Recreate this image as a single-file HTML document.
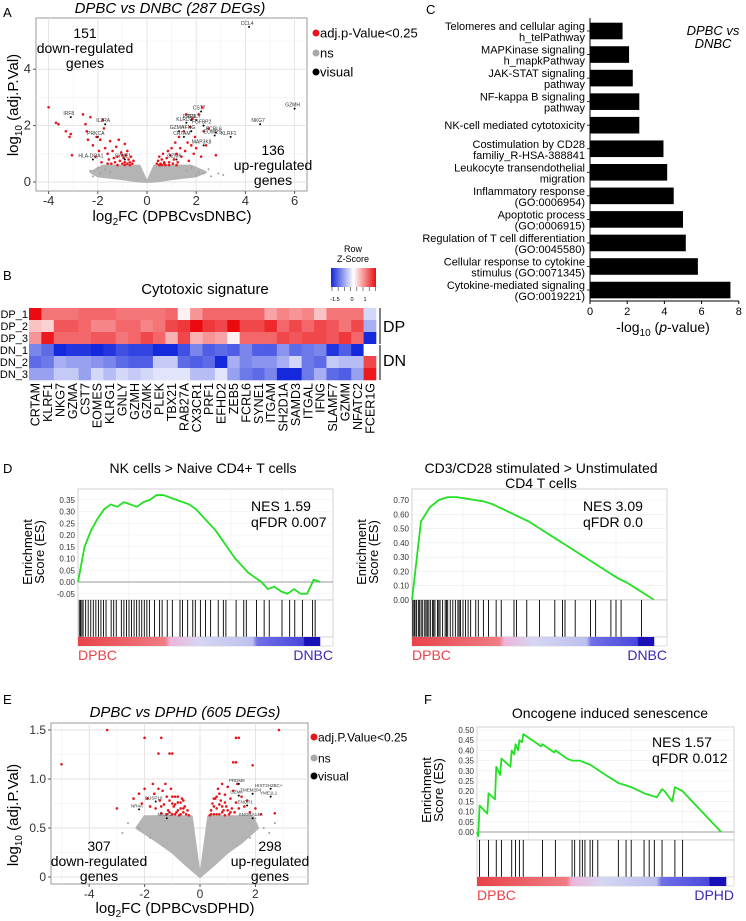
<!DOCTYPE html>
<html><head><meta charset="utf-8">
<style>
html,body{margin:0;padding:0;background:#fff;}
svg{display:block;font-family:"Liberation Sans",Arial,sans-serif;}
</style></head>
<body>
<svg id="fig" width="746" height="921" viewBox="0 0 746 921" xmlns="http://www.w3.org/2000/svg">
<defs>
<linearGradient id="hmkey" x1="0" x2="1" y1="0" y2="0">
<stop offset="0" stop-color="#1428d8"/><stop offset="0.5" stop-color="#ffffff"/><stop offset="1" stop-color="#e81010"/>
</linearGradient>
<linearGradient id="rankbar" x1="0" x2="1" y1="0" y2="0">
<stop offset="0" stop-color="#e8434a"/><stop offset="0.36" stop-color="#f07c84"/><stop offset="0.38" stop-color="#eeb4da"/><stop offset="0.5" stop-color="#d6d6f2"/><stop offset="0.72" stop-color="#bcc0ee"/><stop offset="0.74" stop-color="#7070e6"/><stop offset="0.93" stop-color="#4a48dc"/><stop offset="0.935" stop-color="#1a10b8"/><stop offset="1" stop-color="#1a10b8"/>
</linearGradient>
</defs>
<g id="root"></g>
</svg>
<script>
// ---------------- DATA ----------------
// Panel A volcano
const aRedPts = [[-4.0,2.65],[-3.7,2.1],[-3.6,2.05],[-3.3,1.8],[-3.15,1.6],[-3.1,1.7],[-3.05,0.95],[-2.6,2.4],[-2.5,2.05],[-2.45,1.8],[-2.4,1.5],[-2.3,2.3],[-2.2,1.3],[-2.1,0.9],[-2.05,1.6],[-1.95,1.1],[-1.9,1.5],[-1.85,0.7],[-1.8,2.2],[-1.75,1.9],[-1.7,1.2],[-1.6,1.0],[-1.55,0.8],[-1.5,1.45],[-1.45,0.65],[-1.4,1.1],[-1.35,0.85],[-1.3,0.7],[-1.25,1.25],[-1.2,0.9],[-1.15,1.5],[-1.1,0.75],[-1.05,1.05],[-1.0,0.65],[-0.95,0.85],[-0.9,1.35],[-0.9,0.7],[-0.85,0.95],[-0.8,1.1],[-0.8,0.65],[-0.75,0.8],[-0.7,0.7],[-0.65,0.9],[-0.6,0.65],[-0.55,0.75],[-1.0,0.95],[-0.9,0.6],[-1.2,0.6],[-0.7,0.6],[-1.6,0.65],
[0.4,0.65],[0.45,0.75],[0.5,0.9],[0.55,0.65],[0.6,0.8],[0.65,1.0],[0.7,0.7],[0.75,0.6],[0.8,0.85],[0.85,1.1],[0.9,0.7],[0.95,0.95],[1.0,1.2],[1.05,0.65],[1.1,0.8],[1.15,1.4],[1.2,1.0],[1.25,0.7],[1.3,1.6],[1.35,1.2],[1.4,0.9],[1.5,1.8],[1.55,1.1],[1.6,2.4],[1.65,1.4],[1.7,0.75],[1.75,1.95],[1.8,1.3],[1.85,2.25],[1.9,1.0],[1.95,1.6],[2.0,1.2],[2.1,2.4],[2.2,0.9],[2.25,2.65],[2.3,1.8],[2.4,1.3],[2.5,1.9],[2.8,0.95],[0.6,0.6],[0.7,0.65],[0.9,0.6],[0.5,0.6],[1.2,0.6]];
const aGrayPts = [[-2.3,0.4],[-2.0,0.5],[-1.9,0.3],[-2.2,0.2],[2.1,0.35],[2.3,0.3],[2.5,0.45],[2.9,0.3],[2.6,0.2],[3.1,0.25],[-1.7,0.45],[1.8,0.5],[1.6,0.4],[-1.5,0.35],[2.0,0.25]];
const aLeftArmX = [0,-0.3,-1.8,-2.3,-2.0,-1.0,-0.4,0];
const aLeftArmY = [0,0.58,0.58,0.35,0.2,0.1,0.02,0];
const aRightArmX = [0,0.3,1.8,2.4,2.0,1.0,0.4,0];
const aRightArmY = [0,0.58,0.58,0.35,0.2,0.1,0.02,0];
const aLabelNames = ["CCL4","GZMH","NKG7","IRF8","IL2RA","PRKCA","HLA-DQA1","KLRF1","FCRL6","EOMES","CST7","GNLY","PRF1","KLRD1","GZMA","IFNG","CRTAM","FGFBP2","MAP3K8","SYNE1","GZMK"];
const aLabelX = [4.15,6.0,4.6,-3.1,-1.7,-2.0,-2.2,3.4,2.8,2.75,2.2,2.0,1.8,1.6,1.3,1.8,1.5,2.3,2.3,-0.9,1.2];
const aLabelY = [5.5,2.6,2.05,2.3,2.05,1.6,0.8,1.6,1.75,1.65,2.5,2.2,2.2,2.1,1.8,1.8,1.6,2.0,1.3,0.8,0.8];
const aXTicks = [-4,-2,0,2,4,6];
const aYTicks = [0,2,4];

// Panel B heatmap
const bGenes = ["CRTAM","KLRF1","NKG7","GZMA","CST7","EOMES","KLRG1","GNLY","GZMH","GZMK","PLEK","TBX21","RAB27A","CX3CR1","PRF1","EFHD2","ZEB5","FCRL6","SYNE1","ITGAM","SH2D1A","SAMD3","ITGAL","IFNG","SLAMF7","GZMM","NFATC2","FCER1G"];
const bRows = ["DP_1","DP_2","DP_3","DN_1","DN_2","DN_3"];
const bZ = [
[1.6,0.9,0.9,0.9,1.0,1.0,1.0,0.9,0.9,0.9,0.9,1.0,0.1,0.7,1.0,1.0,1.0,1.0,1.0,0.6,0.8,0.7,0.8,0.4,0.9,0.9,0.9,-0.3],
[0.4,0.3,1.1,1.1,1.0,0.8,0.8,1.0,1.0,0.8,0.9,1.2,1.3,1.6,1.3,1.2,1.6,1.2,1.2,1.4,1.0,1.2,1.0,1.2,1.1,0.9,1.2,-0.6],
[0.7,1.5,1.0,1.0,1.0,1.1,1.1,0.9,1.0,1.2,1.0,0.5,1.2,0.5,0.7,0.6,0.1,1.0,1.0,1.0,1.2,1.1,1.2,1.2,1.1,1.3,1.0,-1.6],
[-0.9,-1.1,-1.7,-1.5,-1.5,-1.6,-1.5,-1.3,-1.4,-1.4,-1.9,-1.9,-1.3,-0.9,-1.2,-1.1,-1.2,-0.9,-1.2,-1.2,-0.8,-1.1,-1.0,-0.9,-1.5,-1.2,-1.8,0.0],
[-1.1,-1.0,-0.6,-0.7,-0.7,-0.8,-0.9,-1.1,-1.2,-1.2,-0.4,-0.4,-1.1,-1.2,-1.1,-1.8,-0.6,-0.9,-0.8,-0.8,-0.6,-0.3,-1.0,-1.1,-0.4,-0.5,-0.5,1.2],
[-0.7,-0.7,-0.4,-0.4,-0.7,-0.3,-0.5,-0.3,-0.4,-0.3,-0.2,-0.2,-0.2,-0.5,-0.5,-0.2,-0.7,-1.0,-1.1,-0.9,-1.7,-1.6,-1.0,-0.6,-1.1,-1.2,-0.7,1.5]];

// Panel C bars
const cLine1 = ["Telomeres and cellular aging","MAPKinase signaling","JAK-STAT signaling","NF-kappa B signaling","NK-cell mediated cytotoxicity","Costimulation by CD28","Leukocyte transendothelial","Inflammatory response","Apoptotic process","Regulation of T cell differentiation","Cellular response to cytokine","Cytokine-mediated signaling"];
const cLine2 = ["h_telPathway","h_mapkPathway","pathway","pathway","","familiy_R-HSA-388841","migration","(GO:0006954)","(GO:0006915)","(GO:0045580)","stimulus (GO:0071345)","(GO:0019221)"];
const cValues = [1.75,2.1,2.3,2.65,2.65,3.95,4.15,4.5,5.0,5.15,5.8,7.55];
const cXTicks = [0,2,4,6,8];

// Panel D GSEA
const d1ES = [0,0.15,0.22,0.27,0.31,0.33,0.32,0.34,0.33,0.32,0.34,0.35,0.37,0.37,0.36,0.35,0.34,0.33,0.31,0.28,0.25,0.22,0.18,0.14,0.10,0.07,0.04,0.02,0.00,-0.03,-0.02,-0.04,-0.05,-0.03,-0.05,-0.05,0.01,0.0];
const d1Hits = [0.005,0.01,0.015,0.02,0.03,0.04,0.05,0.06,0.07,0.08,0.09,0.1,0.11,0.13,0.14,0.15,0.17,0.18,0.19,0.2,0.21,0.22,0.23,0.24,0.25,0.26,0.27,0.28,0.3,0.32,0.33,0.35,0.37,0.4,0.41,0.43,0.45,0.46,0.48,0.5,0.52,0.55,0.57,0.58,0.62,0.65,0.66,0.7,0.73,0.75,0.8,0.83,0.85,0.88,0.92,0.93];
const d1Ticks = [-0.05,0,0.05,0.1,0.15,0.2,0.25,0.3,0.35];
const d2ES = [0,0.55,0.65,0.70,0.72,0.72,0.71,0.70,0.69,0.67,0.64,0.61,0.58,0.55,0.51,0.47,0.43,0.39,0.35,0.31,0.27,0.23,0.19,0.15,0.12,0.08,0.04,0.0];
const d2Hits = [0.003,0.008,0.012,0.018,0.025,0.03,0.036,0.042,0.05,0.055,0.06,0.066,0.072,0.08,0.085,0.09,0.1,0.105,0.11,0.12,0.13,0.135,0.14,0.15,0.16,0.17,0.18,0.185,0.19,0.2,0.21,0.22,0.23,0.25,0.26,0.28,0.3,0.33,0.35,0.4,0.41,0.45,0.5,0.56,0.59,0.6,0.64,0.7,0.72,0.78,0.8,0.82,0.9];
const d2Ticks = [0,0.1,0.2,0.3,0.4,0.5,0.6,0.7];

// Panel E volcano
const eRedPts = [[-5,1.15],[-3.35,1.5],[-3.0,0.7],[-2.0,1.42],[-1.4,1.42],[-1.5,1.26],[-1.1,1.26],[-1.0,1.26],[1.3,1.42],[1.4,1.42],[1.2,1.17],[1.3,1.17],[1.9,1.14],[2.85,1.5],[2.7,0.65],
[-2.4,0.8],[-2.2,0.85],[-2.1,0.75],[-2.0,0.9],[-1.9,0.8],[-1.8,0.72],[-1.7,0.95],[-1.65,0.85],[-1.6,0.7],[-1.5,0.9],[-1.45,0.78],[-1.4,0.65],[-1.35,0.88],[-1.3,0.74],[-1.25,0.95],[-1.2,0.82],[-1.15,0.68],[-1.1,0.78],[-1.05,0.9],[-1.0,0.64],[-0.95,0.72],[-0.9,0.82],[-0.85,0.66],[-0.8,0.76],[-0.75,0.63],[-0.7,0.7],[-0.65,0.8],[-0.6,0.66],[-0.55,0.72],[-0.5,0.64],[-0.45,0.68],[-0.4,0.63],[-1.2,0.64],[-1.0,0.75],[-0.8,0.68],[-0.6,0.78],[-0.9,0.64],[-0.7,0.64],[-1.4,0.72],[-1.1,0.66],[-0.8,0.82],[-0.7,0.76],[-0.9,0.74],[-1.0,0.82],[-0.6,0.7],
[0.35,0.63],[0.4,0.68],[0.45,0.75],[0.5,0.64],[0.55,0.8],[0.6,0.7],[0.65,0.9],[0.7,0.64],[0.75,0.78],[0.8,0.95],[0.85,0.68],[0.9,0.84],[0.95,0.72],[1.0,0.92],[1.05,0.64],[1.1,0.8],[1.15,0.7],[1.2,0.88],[1.25,0.66],[1.3,0.76],[1.35,0.95],[1.4,0.7],[1.5,0.82],[1.6,0.72],[1.7,0.78],[1.8,0.66],[2.0,0.7],[2.2,0.64],[0.6,0.64],[0.8,0.66],[1.0,0.68],[0.7,0.85],[0.9,0.63],[1.1,0.66],[0.5,0.72],[0.4,0.64],[0.6,0.82],[0.7,0.74],[0.8,0.72],[0.5,0.8],[0.9,0.76]];
const eGrayPts = [[-2.6,0.55],[-2.8,0.45],[-2.2,0.5],[2.0,0.6],[2.3,0.5],[2.5,0.45],[1.8,0.4],[-1.8,0.4],[2.7,0.55]];
const eLeftArmX = [0,-0.3,-2.0,-2.3,-1.5,-1.0,-0.5,0];
const eLeftArmY = [0,0.62,0.62,0.5,0.35,0.25,0.12,0];
const eRightArmX = [0,0.3,1.9,2.1,1.5,1.0,0.5,0];
const eRightArmY = [0,0.62,0.62,0.5,0.35,0.25,0.12,0];
const eLabelNames = ["PRDM8","HIST2H2BC+","TMEM204","YME1L1","GZMK","ENOP1","SNORA14A","DUSP10","NR4A","NR4A2"];
const eLabelX = [1.4,2.55,1.9,2.55,1.4,1.7,1.9,-1.6,-2.2,-1.2];
const eLabelY = [0.95,0.9,0.85,0.82,0.83,0.73,0.6,0.77,0.69,0.6];
const eXTicks = [-4,-2,0,2];
const eYTicks = [0,0.5,1.0,1.5];

// Panel F GSEA
const fRank = [0,0.005,0.01,0.04,0.045,0.07,0.075,0.09,0.095,0.13,0.135,0.145,0.15,0.16,0.165,0.175,0.18,0.25,0.255,0.30,0.305,0.35,0.37,0.40,0.44,0.5,0.55,0.6,0.65,0.7,0.72,0.73,0.76,0.77,0.8,0.95];
const fES = [0,-0.02,0.13,0.09,0.19,0.16,0.32,0.28,0.36,0.32,0.40,0.38,0.43,0.40,0.45,0.44,0.48,0.42,0.43,0.39,0.40,0.36,0.35,0.35,0.33,0.28,0.24,0.22,0.19,0.17,0.21,0.20,0.15,0.22,0.20,0.0];
const fHits = [0.01,0.045,0.075,0.095,0.135,0.15,0.165,0.18,0.255,0.305,0.37,0.38,0.40,0.41,0.42,0.44,0.45,0.47,0.55,0.58,0.6,0.65,0.67,0.69,0.72,0.77,0.8];
const fTicks = [0,0.05,0.1,0.15,0.2,0.25,0.3,0.35,0.4,0.45,0.5];

// ---------------- DRAW ----------------
const NS="http://www.w3.org/2000/svg";
const root=document.getElementById('root');
function mk(tag,attrs,parent){const e=document.createElementNS(NS,tag);for(const k in attrs)e.setAttribute(k,attrs[k]);(parent||root).appendChild(e);return e;}
function txt(s,x,y,size,anchor,parent,extra){const e=mk('text',Object.assign({x:x,y:y,'font-size':size,'text-anchor':anchor||'start',fill:'#000'},extra||{}),parent);e.textContent=s;return e;}
let el;

[["A",3,17],["B",3,280],["C",426,14],["D",3,473],["E",3,704],["F",424,704]].forEach(p=>{
  el=txt(p[0],p[1],p[2],13,'start');
  
  
});

function volcano(cfg){
  const g=mk('g',{});
  
  
  const sx=cfg.sx, sy=cfg.sy;
  el=mk('rect',{x:cfg.L,y:cfg.T,width:cfg.R-cfg.L,height:cfg.B-cfg.T,fill:'#fff',stroke:'#9a9a9a','stroke-width':1},g);
  
  
  cfg.xMinor.forEach(v=>{el=mk('line',{x1:sx(v),x2:sx(v),y1:cfg.T,y2:cfg.B,stroke:'#f0f0f0','stroke-width':0.6},g);});
  cfg.yMinor.forEach(v=>{el=mk('line',{x1:cfg.L,x2:cfg.R,y1:sy(v),y2:sy(v),stroke:'#f0f0f0','stroke-width':0.6},g);});
  cfg.xTicks.forEach(v=>{
    el=mk('line',{x1:sx(v),x2:sx(v),y1:cfg.T,y2:cfg.B,stroke:'#e2e2e2','stroke-width':0.9},g);
    el=mk('line',{x1:sx(v),x2:sx(v),y1:cfg.B,y2:cfg.B+3,stroke:'#555'},g);
    el=txt(String(v),sx(v),cfg.B+14,cfg.tickSize,'middle',g,{fill:'#333'});
  });
  cfg.yTicks.forEach(v=>{
    el=mk('line',{x1:cfg.L,x2:cfg.R,y1:sy(v),y2:sy(v),stroke:'#e2e2e2','stroke-width':0.9},g);
    el=mk('line',{x1:cfg.L-3,x2:cfg.L,y1:sy(v),y2:sy(v),stroke:'#555'},g);
    el=txt(cfg.yFmt(v),cfg.L-5,sy(v)+4,cfg.tickSize,'end',g,{fill:'#333'});
  });
  [[cfg.lax,cfg.lay],[cfg.rax,cfg.ray]].forEach(a=>{
    const pts=a[0].map((x,i)=>sx(x)+','+sy(a[1][i])).join(' ');
    el=mk('polygon',{points:pts,fill:'#b4b4b4',stroke:'#b4b4b4','stroke-width':2,'stroke-linejoin':'round'},g);
    
    
  });
  cfg.gray.forEach(p=>{el=mk('circle',{cx:sx(p[0]),cy:sy(p[1]),r:1,fill:'#a0a0a0'},g);});
  cfg.red.forEach(p=>{el=mk('circle',{cx:sx(p[0]),cy:sy(p[1]),r:1.3,fill:'#e8141c'},g);});
  cfg.labN.forEach((n,i)=>{
    el=mk('circle',{cx:sx(cfg.labX[i]),cy:sy(cfg.labY[i]),r:1,fill:'#000'},g);
    el=txt(n,sx(cfg.labX[i])-2,sy(cfg.labY[i])-2,cfg.labSize,'middle',g,{fill:'#333'});
  });
  const leg=[["#e8141c",cfg.legRed],["#a8a8a8","ns"],["#000","visual"]];
  leg.forEach((l,i)=>{
    el=mk('circle',{cx:cfg.legX,cy:cfg.legY[i],r:3.5,fill:l[0]},g);
    el=txt(l[1],cfg.legX+4,cfg.legY[i]+4.5,cfg.legSize,'start',g);
  });
  el=txt(cfg.title,cfg.titleX,cfg.titleY,15,'middle',g,{'font-style':'italic'});
  el=mk('text',{x:cfg.xtX,y:cfg.xtY,'font-size':15,'text-anchor':'middle'},g);
  el.innerHTML='log<tspan font-size="10" dy="4">2</tspan><tspan dy="-4">FC ('+cfg.xtName+')</tspan>';
  
  el=mk('text',{x:0,y:0,'font-size':15,'text-anchor':'middle',transform:'translate('+cfg.ytX+','+cfg.ytY+') rotate(-90)'},g);
  el.innerHTML='log<tspan font-size="10" dy="4">10</tspan><tspan dy="-4"> (adj.P.Val)</tspan>';
  
  cfg.notes.forEach(nt=>{nt[0].forEach((s,i)=>{el=txt(s,nt[1],nt[2]+i*15,14,'middle',g);});});
}

volcano({name:'volcano-dpbc-vs-dnbc',L:36,R:307,T:18,B:191,
  sx:x=>147+x*24.6, sy:y=>182-y*28.2,
  xTicks:aXTicks,yTicks:aYTicks,xMinor:[-3,-1,1,3,5],yMinor:[1,3,5],yFmt:v=>String(v),tickSize:13,
  lax:aLeftArmX,lay:aLeftArmY,rax:aRightArmX,ray:aRightArmY,gray:aGrayPts,red:aRedPts,
  labN:aLabelNames,labX:aLabelX,labY:aLabelY,labSize:5,
  legX:316,legY:[33,53,72],legRed:'adj.p-Value<0.25',legSize:13,
  title:'DPBC vs DNBC  (287 DEGs)',titleX:170,titleY:13,
  xtX:172,xtY:221,xtName:'DPBCvsDNBC',ytX:18,ytY:105,
  notes:[[['151','down-regulated','genes'],85,38],[['136','up-regulated','genes'],273,155]]});

volcano({name:'volcano-dpbc-vs-dphd',L:51,R:308,T:723,B:884,
  sx:x=>200+x*27.7, sy:y=>877-y*98,
  xTicks:eXTicks,yTicks:eYTicks,xMinor:[-5,-3,-1,1,3],yMinor:[0.25,0.75,1.25],yFmt:v=>v===0?'0':v.toFixed(1),tickSize:12,
  lax:eLeftArmX,lay:eLeftArmY,rax:eRightArmX,ray:eRightArmY,gray:eGrayPts,red:eRedPts,
  labN:eLabelNames,labX:eLabelX,labY:eLabelY,labSize:4.5,
  legX:314,legY:[737,758,776],legRed:'adj.P.Value<0.25',legSize:12,
  title:'DPBC vs DPHD  (605 DEGs)',titleX:185,titleY:717,
  xtX:175,xtY:913,xtName:'DPBCvsDPHD',ytX:18,ytY:815,
  notes:[[['307','down-regulated','genes'],99,851],[['298','up-regulated','genes'],270,851]]});

(function(){
  const g=mk('g',{});
  
  
  const L=29,T=308,cw=(376-29)/bGenes.length,ch=12;
  function col(z){z=Math.max(-1.8,Math.min(1.8,z));
    if(z<0){const t=Math.min(1,-z/1.6);return 'rgb('+Math.round(255-t*235)+','+Math.round(255-t*215)+','+Math.round(255-t*35)+')';}
    const t=Math.min(1,z/1.6);return 'rgb('+Math.round(255-t*20)+','+Math.round(255-t*245)+','+Math.round(255-t*240)+')';}
  bZ.forEach((row,r)=>row.forEach((z,c)=>{
    el=mk('rect',{x:L+c*cw,y:T+r*ch,width:cw+0.3,height:ch+0.3,fill:col(z)},g);
    
    
  }));
  bRows.forEach((n,r)=>{el=txt(n,28,T+r*ch+10,11,'end',g);});
  bGenes.forEach((n,c)=>{
    const x=L+c*cw+cw/2+4.5;
    el=txt(n,0,0,12.5,'end',g,{transform:'translate('+x+',383) rotate(-90)'});
    
    
  });
  el=txt('Cytotoxic signature',205,294,15,'middle',g);
  el=mk('rect',{x:331,y:268,width:45,height:19,fill:'url(#hmkey)'},g);
  el=txt('Row',353,252,9,'middle',g);
  el=txt('Z-Score',353,262,9,'middle',g);
  for(let i=0;i<8;i++){el=mk('line',{x1:332+i*6.2,x2:332+i*6.2,y1:287,y2:291,stroke:'#333','stroke-width':0.6},g);}
  [['-1.5',335],['0',352],['1',365]].forEach(t=>{el=txt(t[0],t[1],301,5.5,'middle',g);});
  el=mk('line',{x1:380,x2:380,y1:308,y2:344,stroke:'#000','stroke-width':1},g);
  el=mk('line',{x1:380,x2:380,y1:345,y2:380,stroke:'#000','stroke-width':1},g);
  el=txt('DP',383,332,16,'start',g);
  el=txt('DN',383,366,16,'start',g);
})();

(function(){
  const g=mk('g',{});
  
  
  const x0=590, sx=v=>x0+v*18.6, cy=i=>31+i*23.55;
  cValues.forEach((v,i)=>{
    el=mk('rect',{x:x0,y:cy(i)-8.3,width:sx(v)-x0,height:16.6,fill:'#000'},g);
    
    
    el=mk('line',{x1:x0-3,x2:x0,y1:cy(i),y2:cy(i),stroke:'#000','stroke-width':0.8},g);
    
    if(cLine2[i]){
      el=txt(cLine1[i],585,cy(i)-1,11,'end',g);
      el=txt(cLine2[i],585,cy(i)+10,11,'end',g);
    } else {
      el=txt(cLine1[i],585,cy(i)+4,11,'end',g);
    }
  });
  el=mk('line',{x1:x0,x2:x0,y1:18,y2:301,stroke:'#000','stroke-width':1},g);
  el=mk('line',{x1:x0,x2:sx(8),y1:301,y2:301,stroke:'#000','stroke-width':1},g);
  cXTicks.forEach(v=>{
    el=mk('line',{x1:sx(v),x2:sx(v),y1:301,y2:304,stroke:'#000'},g);
    el=txt(String(v),sx(v),315,11,'middle',g);
  });
  el=mk('text',{x:663,y:332,'font-size':14,'text-anchor':'middle'},g);
  el.innerHTML='-log<tspan font-size="10" dy="4">10</tspan><tspan dy="-4"> (</tspan><tspan font-style="italic">p</tspan>-value)';
  
  el=txt('DPBC vs',713,35,13,'middle',g,{'font-style':'italic'});
  el=txt('DNBC',713,48,13,'middle',g,{'font-style':'italic'});
})();

function gsea(c){
  const g=mk('g',{});
  
  
  const sx=f=>c.L+f*(c.R-c.L), sy=v=>c.zeroY-v*c.k;
  el=mk('rect',{x:c.L,y:c.T,width:c.R-c.L,height:c.B-c.T,fill:'#fff',stroke:'#c8c8c8','stroke-width':0.8},g);
  
  for(let i=1;i<5;i++){el=mk('line',{x1:sx(i/5),x2:sx(i/5),y1:c.T,y2:c.B,stroke:'#ececec','stroke-width':0.6},g);}
  c.ticks.forEach(v=>{
    el=mk('line',{x1:c.L,x2:c.R,y1:sy(v),y2:sy(v),stroke:v===0?'#999':'#ececec','stroke-width':v===0?0.9:0.6},g);
    el=txt(v.toFixed(2),c.L-3,sy(v)+3,8,'end',g,{fill:'#333'});
  });
  const pts=c.es.map((v,i)=>sx(c.rank?c.rank[i]:i/(c.es.length-1)*c.end)+','+sy(v)).join(' ');
  el=mk('polyline',{points:pts,fill:'none',stroke:'#22e022','stroke-width':1.8,'stroke-linejoin':'round'},g);
  
  el=mk('rect',{x:c.L,y:c.B,width:c.R-c.L,height:c.CB-c.B,fill:'#fff',stroke:'#c8c8c8','stroke-width':0.8},g);
  
  c.hits.forEach(h=>{el=mk('line',{x1:sx(h),x2:sx(h),y1:c.B,y2:c.CB,stroke:'#000','stroke-width':0.9},g);});
  el=mk('rect',{x:c.L,y:c.CB,width:c.R-c.L,height:9,fill:'#fff',stroke:'#c8c8c8','stroke-width':0.6},g);
  
  el=mk('rect',{x:c.L,y:c.CB,width:(c.R-c.L)*c.end,height:9,fill:'url(#rankbar)'},g);
  
  el=txt(c.left,c.L,c.CB+23,14,'start',g,{fill:'#e8434a'});
  el=txt(c.right,c.R,c.CB+23,14,'end',g,{fill:'#3a2ab8'});
  c.titles.forEach((s,i)=>{el=txt(s,c.titleX,c.titleY+i*15,14,'middle',g);});
  el=txt(c.nes,c.nesX,c.nesY,14,'start',g);
  el=txt(c.fdr,c.nesX,c.nesY+16,14,'start',g);
  el=txt('Enrichment',0,0,13,'middle',g,{transform:'translate('+c.ytX+','+c.ytY+') rotate(-90)'});
  el=txt('Score (ES)',0,0,13,'middle',g,{transform:'translate('+(c.ytX+12)+','+c.ytY+') rotate(-90)'});
}

gsea({name:'gsea-nk-vs-naive',L:78,R:333,T:489,B:600,CB:637,zeroY:582,k:235,end:0.95,es:d1ES,hits:d1Hits,ticks:d1Ticks,
  left:'DPBC',right:'DNBC',titles:['NK cells > Naive CD4+ T cells'],titleX:203,titleY:473,nes:'NES 1.59',fdr:'qFDR 0.007',nesX:251,nesY:511,ytX:32,ytY:552});
gsea({name:'gsea-cd3cd28-stimulated',L:412,R:667,T:489,B:600,CB:637,zeroY:600,k:142.86,end:0.95,es:d2ES,hits:d2Hits,ticks:d2Ticks,
  left:'DPBC',right:'DNBC',titles:['CD3/CD28 stimulated > Unstimulated','CD4 T cells'],titleX:541,titleY:473,nes:'NES 3.09',fdr:'qFDR 0.0',nesX:583,nesY:511,ytX:366,ytY:552});
gsea({name:'gsea-oncogene-senescence',L:477,R:734,T:727,B:840,CB:877,zeroY:832,k:204,end:0.97,rank:fRank,es:fES,hits:fHits,ticks:fTicks,
  left:'DPBC',right:'DPHD',titles:['Oncogene induced senescence'],titleX:610,titleY:718,nes:'NES 1.57',fdr:'qFDR 0.012',nesX:652,nesY:747,ytX:431,ytY:790});
</script>
</body></html>
